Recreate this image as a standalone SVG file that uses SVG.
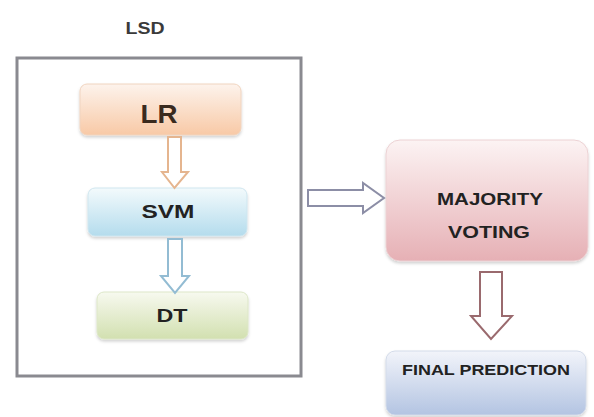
<svg xmlns="http://www.w3.org/2000/svg" width="594" height="417" viewBox="0 0 594 417">
  <defs>
    <linearGradient id="gLR" x1="0" y1="0" x2="0" y2="1">
      <stop offset="0" stop-color="#fdf3ec"/>
      <stop offset="1" stop-color="#f8c9a6"/>
    </linearGradient>
    <linearGradient id="gSVM" x1="0" y1="0" x2="0" y2="1">
      <stop offset="0" stop-color="#f3fafc"/>
      <stop offset="1" stop-color="#b4dced"/>
    </linearGradient>
    <linearGradient id="gDT" x1="0" y1="0" x2="0" y2="1">
      <stop offset="0" stop-color="#f7f9ef"/>
      <stop offset="1" stop-color="#d2e0b0"/>
    </linearGradient>
    <linearGradient id="gMV" x1="0" y1="0" x2="0" y2="1">
      <stop offset="0" stop-color="#fcf3f3"/>
      <stop offset="1" stop-color="#e6b0b5"/>
    </linearGradient>
    <linearGradient id="gFP" x1="0" y1="0" x2="0" y2="1">
      <stop offset="0" stop-color="#f2f4fa"/>
      <stop offset="1" stop-color="#b3c4e2"/>
    </linearGradient>
    <filter id="soft" x="-10%" y="-10%" width="120%" height="130%">
      <feDropShadow dx="0" dy="2" stdDeviation="1.5" flood-color="#000" flood-opacity="0.18"/>
    </filter>
  </defs>
  <style>
    .lbl { font-family: "Liberation Sans", Arial, sans-serif; font-weight: bold; fill: #222; text-anchor: middle; }
    .box { stroke-width: 1; filter: url(#soft); }
    .arrow { fill: #ffffff; stroke-width: 2; stroke-linejoin: miter; }
  </style>

  <rect width="594" height="417" fill="#ffffff"/>

  <!-- container for the three base classifiers -->
  <g id="lsd">
    <text x="145" y="34" class="lbl" font-size="16" textLength="39" lengthAdjust="spacingAndGlyphs" style="fill:#3a3a3a">LSD</text>
    <rect x="17" y="58" width="284" height="318" fill="#ffffff" stroke="#8a8a90" stroke-width="3"/>
  </g>

  <g id="lr">
    <rect class="box" x="80" y="84" width="161" height="51" rx="7" fill="url(#gLR)" stroke="#f0d4bf"/>
    <text x="159" y="123" class="lbl" font-size="25" textLength="37" lengthAdjust="spacingAndGlyphs" style="fill:#3a2a1e">LR</text>
  </g>

  <g id="svm">
    <rect class="box" x="88" y="188" width="159" height="48" rx="7" fill="url(#gSVM)" stroke="#cfe6ef"/>
    <text x="168" y="218" class="lbl" font-size="18" textLength="53" lengthAdjust="spacingAndGlyphs">SVM</text>
  </g>

  <g id="dt">
    <rect class="box" x="97" y="292" width="151" height="47" rx="7" fill="url(#gDT)" stroke="#dde7c8"/>
    <text x="172" y="322" class="lbl" font-size="18" textLength="31" lengthAdjust="spacingAndGlyphs">DT</text>
  </g>

  <g id="majority-voting">
    <rect class="box" x="386" y="140" width="202" height="121" rx="14" fill="url(#gMV)" stroke="#ecd2d4"/>
    <text x="490" y="205" class="lbl" font-size="17" textLength="106" lengthAdjust="spacingAndGlyphs">MAJORITY</text>
    <text x="489" y="238" class="lbl" font-size="16" textLength="82" lengthAdjust="spacingAndGlyphs">VOTING</text>
  </g>

  <g id="final-prediction">
    <rect class="box" x="386" y="351" width="200" height="64" rx="9" fill="url(#gFP)" stroke="#d3dbe9"/>
    <text x="486" y="375" class="lbl" font-size="15" textLength="168" lengthAdjust="spacingAndGlyphs">FINAL PREDICTION</text>
  </g>

  <!-- block arrows between stages -->
  <g id="connectors">
    <path class="arrow" stroke="#e5b58f" d="M168,137 H181 V172 H188 L174.5,188 L162,172 H168 Z"/>
    <path class="arrow" stroke="#93bcd3" d="M168,239 H182 V276 H189 L175,293 L161,276 H168 Z"/>
    <path class="arrow" stroke="#8c8ea6" d="M308,190 H363 V183 L384,198 L363,213 V206 H308 Z"/>
    <path class="arrow" stroke="#9a6a6e" d="M480,272 H502 V316 H512 L491,339 L471,316 H480 Z"/>
  </g>
</svg>
